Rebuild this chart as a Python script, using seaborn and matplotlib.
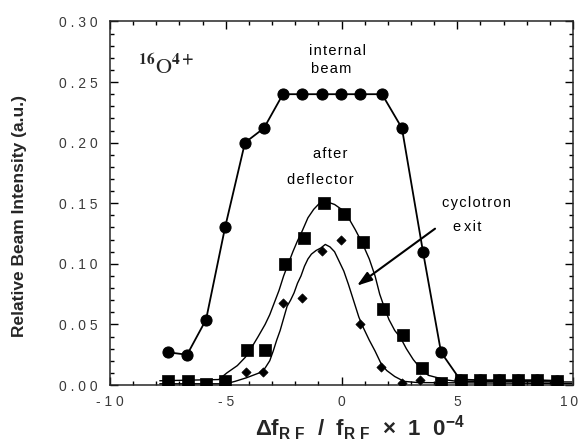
import matplotlib
matplotlib.use('Agg')
import matplotlib.pyplot as plt
import matplotlib.transforms as mtransforms
import seaborn as sns
from matplotlib.ticker import FixedLocator, FixedFormatter, MultipleLocator

# ---------------- data ----------------
# internal beam (circles)
x_int = [-7.5, -6.67, -5.85, -5.03, -4.17, -3.35, -2.53, -1.71, -0.84, -0.02, 0.80,
         1.75, 2.61, 3.52, 4.30, 5.12, 5.98, 6.80, 7.62, 8.44, 9.31]
y_int = [0.027, 0.025, 0.054, 0.130, 0.200, 0.212, 0.240, 0.240, 0.240, 0.240, 0.240,
         0.240, 0.212, 0.110, 0.027, 0.0045, 0.004, 0.004, 0.004, 0.004, 0.0035]

# after deflector (squares)
x_sq = [-7.5, -6.63, -5.85, -5.03, -4.08, -3.30, -2.44, -1.62, -0.76, 0.11, 0.93,
        1.79, 2.66, 3.48, 4.30, 5.16, 5.98, 6.80, 7.62, 8.44, 9.31]
y_sq = [0.003, 0.003, 0.001, 0.003, 0.029, 0.029, 0.100, 0.121, 0.150, 0.141, 0.118,
        0.063, 0.041, 0.014, 0.002, 0.004, 0.004, 0.004, 0.004, 0.004, 0.0035]

# cyclotron exit (diamonds)
x_dia = [-4.12, -3.39, -2.53, -1.71, -0.84, -0.02, 0.80, 1.71, 2.61, 3.39]
y_dia = [0.011, 0.011, 0.068, 0.072, 0.111, 0.120, 0.050, 0.015, 0.002, 0.004]

# fitted curve through the squares
up_x = [-7.85, -5.3, -4.95, -4.5, -4.15, -3.85, -3.6, -3.3, -3.1, -2.9, -2.7, -2.5,
        -2.3, -2.1, -1.9, -1.7, -1.45, -1.2, -0.95, -0.6, -0.3, 0.0, 0.3, 0.6, 0.9,
        1.2, 1.45, 1.65, 1.85, 2.05, 2.3, 2.55, 2.8, 3.1, 3.4, 3.75, 4.15, 4.6, 5.0, 9.95]
up_y = [0.0035, 0.0045, 0.010, 0.016, 0.023, 0.032, 0.040, 0.050, 0.058, 0.068, 0.078,
        0.090, 0.100, 0.110, 0.119, 0.127, 0.138, 0.145, 0.150, 0.151, 0.149, 0.145,
        0.138, 0.128, 0.117, 0.104, 0.090, 0.075, 0.064, 0.054, 0.045, 0.039, 0.030,
        0.021, 0.014, 0.008, 0.006, 0.004, 0.003, 0.0025]

# fitted curve through the diamonds
lo_x = [-7.85, -5.0, -4.6, -4.1, -3.55, -3.3, -3.1, -2.95, -2.8, -2.65, -2.5, -2.35,
        -2.2, -2.05, -1.9, -1.75, -1.6, -1.45, -1.3, -1.1, -0.9, -0.7, -0.5, -0.3,
        -0.1, 0.1, 0.3, 0.45, 0.6, 0.75, 0.95, 1.2, 1.45, 1.7, 1.95, 2.3, 2.7, 3.3, 9.95]
lo_y = [0.001, 0.001, 0.003, 0.006, 0.010, 0.014, 0.020, 0.028, 0.037, 0.045, 0.055,
        0.065, 0.070, 0.076, 0.084, 0.090, 0.098, 0.104, 0.108, 0.111, 0.113, 0.116,
        0.114, 0.110, 0.102, 0.094, 0.083, 0.074, 0.065, 0.056, 0.047, 0.037, 0.028,
        0.018, 0.012, 0.007, 0.003, 0.002, 0.0012]

xtick_vals = [-10, -5, 0, 5, 10]
xtick_labels = ['- 1 0', '- 5', '0', '5', '1\u20090']
ytick_vals = [0.00, 0.05, 0.10, 0.15, 0.20, 0.25, 0.30]
ytick_labels = ['0 . 0 0', '0 . 0 5', '0 . 1 0', '0 . 1 5', '0 . 2 0', '0 . 2 5', '0 . 3 0']

# ---------------- style ----------------
sns.set_style('ticks')
plt.rcParams['font.family'] = ['Liberation Sans', 'DejaVu Sans']
plt.rcParams['mathtext.fontset'] = 'custom'
plt.rcParams['mathtext.rm'] = 'Liberation Sans'
plt.rcParams['mathtext.bf'] = 'Liberation Sans:bold'
plt.rcParams['mathtext.default'] = 'bf'

fig = plt.figure(figsize=(5.81, 4.44), dpi=100)
ax = fig.add_axes([110 / 581, 59 / 444, 463 / 581, (385 - 21.5) / 444])

# fit curves
sns.lineplot(x=up_x, y=up_y, ax=ax, color='k', lw=1.0,
             sort=False, estimator=None, zorder=2)
sns.lineplot(x=lo_x, y=lo_y, ax=ax, color='k', lw=1.0,
             sort=False, estimator=None, zorder=2)

# internal beam
sns.lineplot(x=x_int, y=y_int, ax=ax, color='k', lw=1.3, marker='o', markersize=8,
             markerfacecolor='k', markeredgecolor='k', sort=False, estimator=None, zorder=3)

# squares and diamonds
sns.scatterplot(x=x_sq, y=y_sq, ax=ax, marker='s', s=80, color='k', edgecolor='k',
                linewidth=0.5, zorder=4)
sns.scatterplot(x=x_dia, y=y_dia, ax=ax, marker='D', s=22, color='k', edgecolor='k',
                linewidth=0.5, zorder=4)

ax.set_xlim(-10, 10)
ax.set_ylim(0, 0.30)
ax.xaxis.set_major_locator(FixedLocator(xtick_vals))
ax.xaxis.set_major_formatter(FixedFormatter(xtick_labels))
ax.xaxis.set_minor_locator(MultipleLocator(1))
ax.yaxis.set_major_locator(FixedLocator(ytick_vals))
ax.yaxis.set_major_formatter(FixedFormatter(ytick_labels))
ax.yaxis.set_minor_locator(MultipleLocator(0.01))
ax.tick_params(which='both', direction='in', top=True, right=True, width=1.0,
               labelsize=10, labelcolor='#3a3a3a', colors='k')
ax.tick_params(which='major', length=6)
ax.tick_params(which='minor', length=3)
ax.tick_params(axis='y', which='major', pad=9)
ax.tick_params(axis='x', which='major', pad=7)
for sp in ax.spines.values():
    sp.set_linewidth(1.1)
ax.set_xlabel('')
ax.set_ylabel('')

fig.canvas.draw()
last = ax.get_xticklabels()[-1]
last.set_transform(last.get_transform() +
                   mtransforms.ScaledTranslation(-4 / 100, 0, fig.dpi_scale_trans))

# annotations
ax.text(-8.79, 0.2564, r'$^{16}\mathrm{O}^{4+}$', fontsize=16, math_fontfamily='stix',
        ha='left', va='baseline')

def spaced(s):
    return '\u200a'.join(s)

lab = dict(fontsize=10.5, ha='center', va='center', color='k')
ax.text(-0.19, 0.276, spaced('internal'), **lab)
ax.text(-0.45, 0.261, spaced('beam'), **lab)
ax.text(-0.50, 0.191, spaced('after'), **lab)
ax.text(-0.93, 0.169, spaced('deflector'), **lab)
ax.text(5.81, 0.150, spaced('cyclotron'), **lab)
ax.text(5.42, 0.130, 'e\u2009x\u200ai\u200at', **lab)

ax.annotate('', xy=(0.67, 0.082), xytext=(4.04, 0.129),
            arrowprops=dict(arrowstyle='-|>,head_length=0.9,head_width=0.3',
                            color='k', lw=1.5, shrinkA=0, shrinkB=0))

fig.text(20 / 581, 1 - 216 / 444, 'Relative Beam Intensity (a.u.)', rotation=90,
         ha='center', va='center', fontsize=12.5, fontweight='bold')
fig.text(360 / 581, 1 - 428 / 444,
         'Δf$_{R\\ F}$  /  f$_{R\\ F}$  ×  1  0$^{-4}$',
         ha='center', va='center', fontsize=16, fontweight='bold')

fig.savefig('out.png', dpi=100)
